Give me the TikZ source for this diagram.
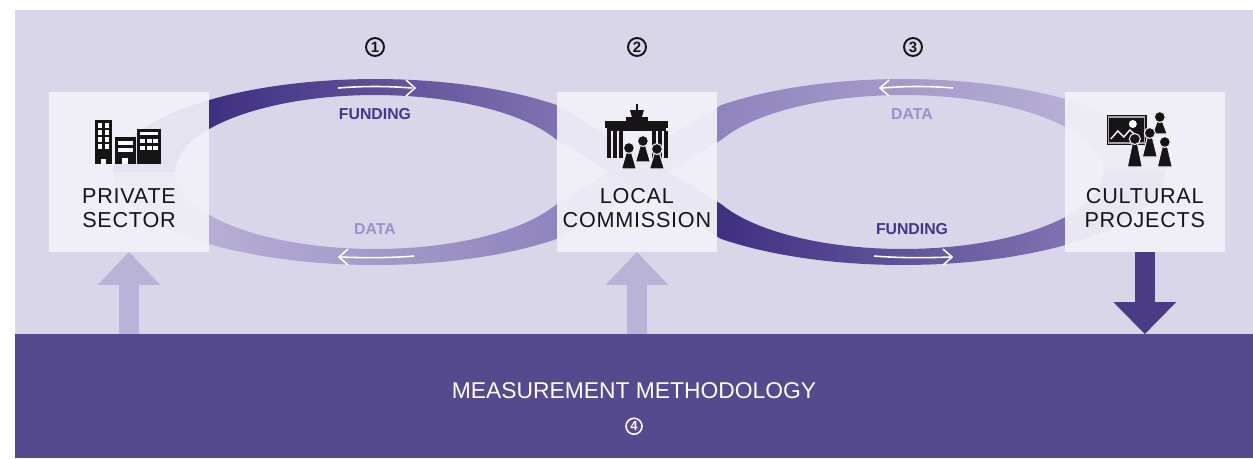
\documentclass[tikz,border=0pt]{standalone}
\usepackage{fontspec}
\setmainfont{Liberation Sans}
\newfontfamily\boxfont[LetterSpace=3.5]{Liberation Sans}
\usetikzlibrary{positioning, arrows.meta}
\definecolor{LavBg}{RGB}{217,214,234}
\definecolor{MethodPurple}{RGB}{86,74,142}
\definecolor{BoxWhite}{RGB}{242,241,248}
\definecolor{FundDark}{RGB}{62,48,128}
\definecolor{FundMid}{RGB}{128,113,177}
\definecolor{DataMid}{RGB}{143,132,189}
\definecolor{DataLight}{RGB}{182,174,213}
\definecolor{ArrowLight}{RGB}{185,179,216}
\definecolor{ArrowDark}{RGB}{74,60,132}
\definecolor{FundText}{RGB}{67,55,135}
\definecolor{DataText}{RGB}{155,145,198}
\definecolor{IconBlack}{RGB}{22,20,22}
\tikzset{
    stage/.style={
        rectangle, fill=BoxWhite, fill opacity=0.93, minimum width=3.2cm,
        minimum height=3.2cm, inner sep=0pt, outer sep=0pt
    },
    stagelabel/.style={
        align=center, font=\boxfont\fontsize{12.3pt}{14pt}\selectfont,
        text=IconBlack, inner sep=0pt
    },
    flowlabel/.style={
        font=\bfseries\fontsize{9pt}{10pt}\selectfont, inner sep=0pt
    },
    stepnum/.style={
        circle, draw=IconBlack, line width=1.1pt, minimum size=0.36cm, inner sep=0pt,
        text=IconBlack, font=\bfseries\fontsize{8.5pt}{9pt}\selectfont
    },
    flowmark/.style={draw=white, line width=0.9pt, line join=miter},
    iconfill/.style={fill=IconBlack},
    iconfig/.style={fill=IconBlack, draw=BoxWhite, line width=0.6pt}
}
% person for the icons: x, head y, foot y
\newcommand{\iconperson}[3]{%
    \filldraw[iconfig] (#1-2.5,#2+4) -- (#1+2.5,#2+4) -- (#1+7.5,#3) -- (#1-7.5,#3) -- cycle;
    \filldraw[iconfig] (#1,#2) circle[radius=0.11cm];
}
% the two ribbons of the figure eight
\def\fundband{plot[domain=180:46,samples=50] ({375+262*cos(\x)},{172-93*sin(\x)})
    -- plot[domain=204.5:360,samples=50] ({903+200*cos(\x)},{172-77*sin(\x)})
    -- plot[domain=360:226,samples=50] ({903+262*cos(\x)},{172-93*sin(\x)})
    -- plot[domain=24.5:180,samples=50] ({375+200*cos(\x)},{172-77*sin(\x)}) -- cycle}
\def\databand{plot[domain=180:314,samples=50] ({375+262*cos(\x)},{172-93*sin(\x)})
    -- plot[domain=155.5:0,samples=50] ({903+200*cos(\x)},{172-77*sin(\x)})
    -- plot[domain=0:134,samples=50] ({903+262*cos(\x)},{172-93*sin(\x)})
    -- plot[domain=335.5:180,samples=50] ({375+200*cos(\x)},{172-77*sin(\x)}) -- cycle}

\begin{document}
\begin{tikzpicture}[
        x=0.02cm, y=-0.02cm,
        band/.style={
            rectangle, fill=MethodPurple, minimum width=24.76cm,
            minimum height=2.48cm, inner sep=0pt, outer sep=0pt
        },
        bandtext/.style={
            font=\fontsize{13pt}{15pt}\selectfont, text=white, inner sep=0pt
        },
        uparrow/.style={
            draw=ArrowLight, line width=0.4cm,
            -{Triangle[width=1.26cm, length=0.66cm, line width=0pt]}
        },
        downarrow/.style={
            draw=ArrowDark, line width=0.4cm,
            -{Triangle[width=1.26cm, length=0.64cm, line width=0pt]}
        }
    ]

    \useasboundingbox (0,0) rectangle (1253,458);
    \fill[white] (0,0) rectangle (1253,458);
    \fill[LavBg] (15,10) rectangle (1253,334);

    % --- BAND ---
    \node[band] (mm) at (634,396) {};

    % --- RIBBONS ---
    \begin{scope}
        \clip \databand;
        \fill[DataLight] (100,60) rectangle (209,290);
        \shade[left color=DataLight, right color=DataMid] (209,60) rectangle (557,290);
        \fill[DataMid] (557,60) rectangle (717,290);
        \shade[left color=DataMid, right color=DataLight] (717,60) rectangle (1065,290);
        \fill[DataLight] (1065,60) rectangle (1180,290);
    \end{scope}
    \begin{scope}
        \clip \fundband;
        \fill[FundDark] (100,60) rectangle (209,290);
        \shade[left color=FundDark, right color=FundMid] (209,60) rectangle (557,290);
        \fill[FundMid] (557,60) rectangle (717,290);
        \shade[left color=FundDark, right color=FundMid] (717,60) rectangle (1065,290);
        \fill[FundMid] (1065,60) rectangle (1180,290);
    \end{scope}

    % direction marks
    \draw[flowmark] (338,88) .. controls (363,86) and (388,86) .. (412,88);
    \draw[flowmark] (406,80) -- (415,88) -- (406,96);
    \draw[flowmark] (341,257) .. controls (365,258) and (390,258) .. (414,256);
    \draw[flowmark] (348,249) -- (339,257) -- (348,265);
    \draw[flowmark] (882,88) .. controls (905,86) and (930,86) .. (953,88);
    \draw[flowmark] (889,80) -- (880,88) -- (889,96);
    \draw[flowmark] (874,256) .. controls (898,258) and (925,258) .. (950,257);
    \draw[flowmark] (943,249) -- (952,257) -- (943,265);

    % --- BOXES ---
    \node[stage] (ps) at (129,172) {};
    \node[stage, right=6.96cm of ps] (lc) {};
    \node[stage, right=6.96cm of lc] (cp) {};

    \node[stagelabel] (pstext) at ([yshift=-0.72cm]ps.center) {PRIVATE\\SECTOR};
    \node[stagelabel] (lctext) at ([yshift=-0.72cm]lc.center) {LOCAL\\COMMISSION};
    \node[stagelabel] (cptext) at ([yshift=-0.72cm]cp.center) {CULTURAL\\PROJECTS};

    % buildings
    \begin{scope}[shift={(ps.center)}]
        \fill[iconfill] (-34,-52) rectangle (-17,-8);
        \foreach \wy in {-49,-42,-35,-28}
            \foreach \wx in {-31,-24}
                \fill[white] (\wx,\wy) rectangle ++(4,5);
        \fill[white] (-28,-13) rectangle (-23,-8);
        \fill[iconfill] (-14,-35) rectangle (7,-8);
        \fill[white] (-11,-31) rectangle (4,-27);
        \fill[white] (-11,-24) rectangle (4,-20);
        \fill[white] (-7,-14) rectangle (-1,-8);
        \fill[iconfill] (8,-43) rectangle (32,-8);
        \fill[white] (11,-40) rectangle (29,-37);
        \foreach \wy in {-33,-26}
            \foreach \wx in {11,17.5,24}
                \fill[white] (\wx,\wy) rectangle ++(5,4);
    \end{scope}

    % gate with people
    \begin{scope}[shift={(lc.center)}]
        \fill[iconfill] (-1,-68) rectangle (1,-62);
        \fill[iconfill] (-7,-62) -- (7,-62) -- (5,-55) -- (-5,-55) -- cycle;
        \fill[iconfill] (-11,-55) rectangle (11,-51);
        \fill[iconfill] (-32,-51) rectangle (31,-44);
        \fill[iconfill] (-30,-44) rectangle (29,-41);
        \foreach \cx in {-30,-24,-18,15,21,27}
            \fill[iconfill] (\cx,-41) rectangle ++(4,27);
        \iconperson{6}{-31}{-10}
        \iconperson{-8}{-24}{-3}
        \iconperson{20}{-23}{-3}
    \end{scope}

    % picture with visitors
    \begin{scope}[shift={(cp.center)}]
        \fill[iconfill] (-38,-57) rectangle (2,-27);
        \draw[gray!70, line width=0.6pt] (-36,-55) rectangle (0,-29);
        \fill[white] (-12,-48) circle[radius=0.08cm];
        \draw[white, line width=0.8pt] (-34,-33) -- (-27,-41) -- (-21,-35) -- (-15,-42) -- (-5,-33);
        \iconperson{15}{-55}{-38}
        \iconperson{5}{-39}{-15}
        \iconperson{-10}{-33}{-5}
        \iconperson{20}{-30}{-5}
    \end{scope}

    % --- FLOW LABELS ---
    \node[flowlabel, text=FundText] (fund1) at (375,114) {FUNDING};
    \node[flowlabel, text=DataText] (data1) at (375,229) {DATA};
    \node[flowlabel, text=DataText] (data2) at (912,114) {DATA};
    \node[flowlabel, text=FundText] (fund2) at (912,229) {FUNDING};

    \node[stepnum] (n1) at (375,47) {1};
    \node[stepnum] (n2) at (637,47) {2};
    \node[stepnum] (n3) at (913,47) {3};

    % --- ARROWS TO AND FROM THE BAND ---
    \draw[uparrow] (ps.south |- mm.north) -- (ps.south);
    \draw[uparrow] (lc.south |- mm.north) -- (lc.south);
    \draw[downarrow] (cp.south) -- (cp.south |- mm.north);

    \node[bandtext] (mmtext) at ([yshift=0.1cm]mm.center) {MEASUREMENT METHODOLOGY};
    \node[stepnum, draw=white, text=white, minimum size=0.32cm, line width=0.9pt,
        font=\bfseries\fontsize{7.5pt}{8pt}\selectfont, below=0.36cm of mmtext] (n4) {4};

\end{tikzpicture}
\end{document}
